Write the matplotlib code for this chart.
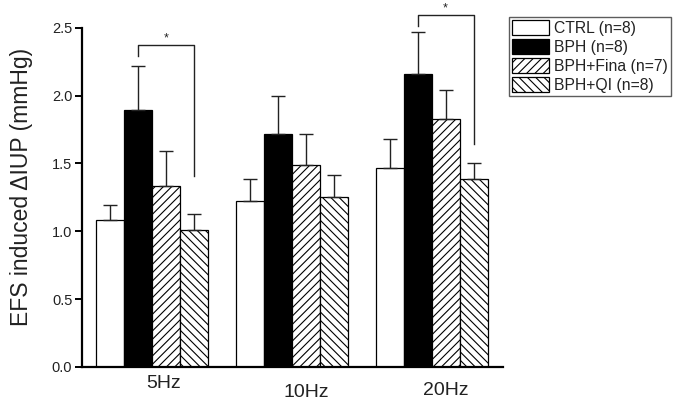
import matplotlib
matplotlib.use("Agg")
import matplotlib.pyplot as plt
import matplotlib.transforms as mtransforms
import numpy as np

plt.rcParams['font.family'] = ['Liberation Sans', 'DejaVu Sans']
plt.rcParams['hatch.linewidth'] = 0.8

frequencies = ["5Hz", "10Hz", "20Hz"]
groups = ["CTRL (n=8)", "BPH (n=8)", "BPH+Fina (n=7)", "BPH+QI (n=8)"]
means = {
    "CTRL (n=8)":     [1.08, 1.225, 1.465],
    "BPH (n=8)":      [1.895, 1.718, 2.159],
    "BPH+Fina (n=7)": [1.333, 1.49, 1.824],
    "BPH+QI (n=8)":   [1.012, 1.252, 1.388],
}
sems = {
    "CTRL (n=8)":     [0.116, 0.157, 0.215],
    "BPH (n=8)":      [0.325, 0.28, 0.307],
    "BPH+Fina (n=7)": [0.26, 0.228, 0.216],
    "BPH+QI (n=8)":   [0.118, 0.165, 0.114],
}
# significance brackets: (frequency index, from group, to group, top value, left leg end, right leg end)
sig_brackets = [
    (0, 1, 3, 2.37, 2.29, 1.41),
    (2, 1, 3, 2.595, 2.51, 1.64),
]

styles = {
    "CTRL (n=8)":     dict(facecolor="white", hatch=None),
    "BPH (n=8)":      dict(facecolor="black", hatch=None),
    "BPH+Fina (n=7)": dict(facecolor="white", hatch="////"),
    "BPH+QI (n=8)":   dict(facecolor="white", hatch="\\\\\\\\"),
}

fig = plt.figure(figsize=(6.85, 4.0), dpi=100)
ax = fig.add_axes([82/685, 1-367/400, (503-82)/685, (367-27.7)/400])

width = 1.0
group_step = 5.0
x0 = np.arange(len(frequencies)) * group_step
handles = []
for gi, g in enumerate(groups):
    xs = x0 + gi * width
    b = ax.bar(xs, means[g], width=width, edgecolor="black", linewidth=0.9,
               label=g, zorder=2, **styles[g])
    handles.append(b)
    ax.errorbar(xs, means[g], yerr=[np.zeros(len(xs)), sems[g]], fmt="none",
                ecolor="#222222", elinewidth=1.0, capsize=5, capthick=1.0, zorder=3)

for fi, ga, gb, top, lleg, rleg in sig_brackets:
    xa = x0[fi] + ga * width
    xb = x0[fi] + gb * width
    ax.plot([xa, xa, xb, xb], [lleg, top, top, rleg], color="#222222", lw=1.0,
            clip_on=False, zorder=4)
    ax.text((xa + xb) / 2, top + 0.027, "*", ha="center", va="baseline", fontsize=9,
            color="#222222", clip_on=False)

ax.set_xlim(-1.0, 14.05)
ax.set_ylim(0, 2.5)
ax.set_yticks([0.0, 0.5, 1.0, 1.5, 2.0, 2.5])
ax.set_yticklabels(["0.0", "0.5", "1.0", "1.5", "2.0", "2.5"], fontsize=10.5, color="#222222")
ax.set_xticks([])
for s in ["top", "right"]:
    ax.spines[s].set_visible(False)
ax.spines["left"].set_linewidth(1.6)
ax.spines["bottom"].set_linewidth(1.6)
ax.tick_params(axis="y", direction="out", length=5, width=1.4, pad=2)

# x category labels
label_dx = [0.4, 0.52, 0.52]
label_dy = [-0.050, -0.0766, -0.0678]
trans = mtransforms.blended_transform_factory(ax.transData, ax.transAxes)
for i, lab in enumerate(frequencies):
    ax.text(x0[i] + 1.5 * width + label_dx[i], label_dy[i], lab, transform=trans,
            ha="center", va="center", fontsize=14, color="#222222")

fig.text(22/685, 1-187/400, "EFS induced \u0394IUP (mmHg)", rotation=90,
         ha="center", va="center", fontsize=16.5, color="#222222")

leg = fig.legend(handles=handles, labels=groups, loc="upper left",
                 bbox_to_anchor=(509/685, 1-16.7/400), bbox_transform=fig.transFigure,
                 fontsize=11.3, handlelength=2.35, handleheight=1.1, labelspacing=0.2,
                 handletextpad=0.3, borderpad=0.2, borderaxespad=0, fancybox=False,
                 frameon=True, edgecolor="#333333")
leg.get_frame().set_linewidth(1.0)
for t in leg.get_texts():
    t.set_color("#222222")

fig.savefig("out.png", dpi=100)
